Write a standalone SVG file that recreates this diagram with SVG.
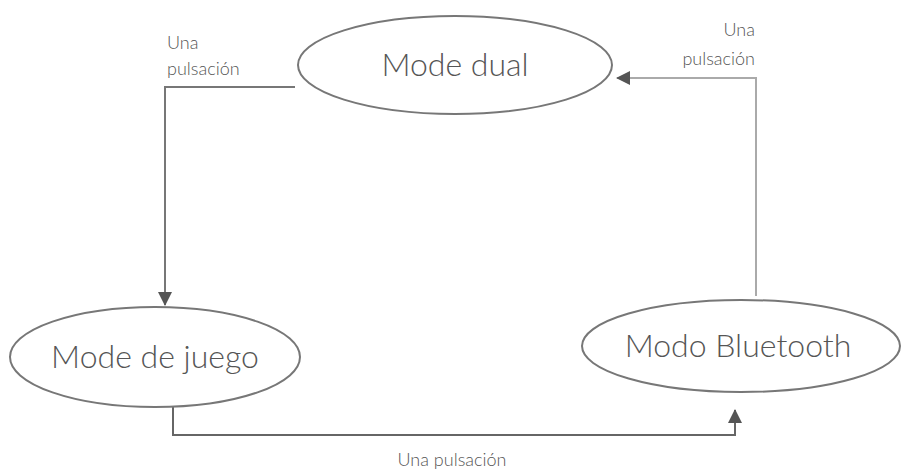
<svg xmlns="http://www.w3.org/2000/svg" width="907" height="473" viewBox="0 0 907 473">
<style>
.n{fill:#fff;stroke:#777;stroke-width:2}
.t{font-family:Lato,"Open Sans",sans-serif;font-weight:300;fill:#555;font-size:32px;text-anchor:middle}
.l{font-family:Lato,"Open Sans",sans-serif;font-weight:300;fill:#555;font-size:18px}
.c{fill:none;stroke:#666;stroke-width:2}
</style>
<defs><marker id="a" markerWidth="14" markerHeight="14" refX="13" refY="7" orient="auto" markerUnits="userSpaceOnUse" viewBox="0 0 14 14"><path d="M0,0L14,7L0,14z" fill="#555"/></marker></defs>
<rect width="907" height="473" fill="#fff"/>
<g id="connectors">
<path class="c" d="M295,87H165V305" marker-end="url(#a)" style="stroke:#777"/>
<path class="c" d="M756,296V78H617" marker-end="url(#a)" style="stroke:#aaa"/>
<path class="c" d="M173,407V435H735V410" marker-end="url(#a)"/>
<text class="l" x="167" y="49">Una</text>
<text class="l" x="167" y="75">pulsación</text>
<text class="l" x="755" y="36" text-anchor="end">Una</text>
<text class="l" x="755" y="65" text-anchor="end">pulsación</text>
<text class="l" x="452" y="466" text-anchor="middle">Una pulsación</text>
</g>
<g id="dual"><ellipse class="n" cx="455" cy="65" rx="157" ry="49"/><text class="t" x="455" y="76">Mode dual</text></g>
<g id="juego"><ellipse class="n" cx="155" cy="357" rx="145" ry="50"/><text class="t" x="155" y="368">Mode de juego</text></g>
<g id="bt"><ellipse class="n" cx="741" cy="346" rx="159" ry="46"/><text class="t" x="738" y="357">Modo Bluetooth</text></g>
</svg>
